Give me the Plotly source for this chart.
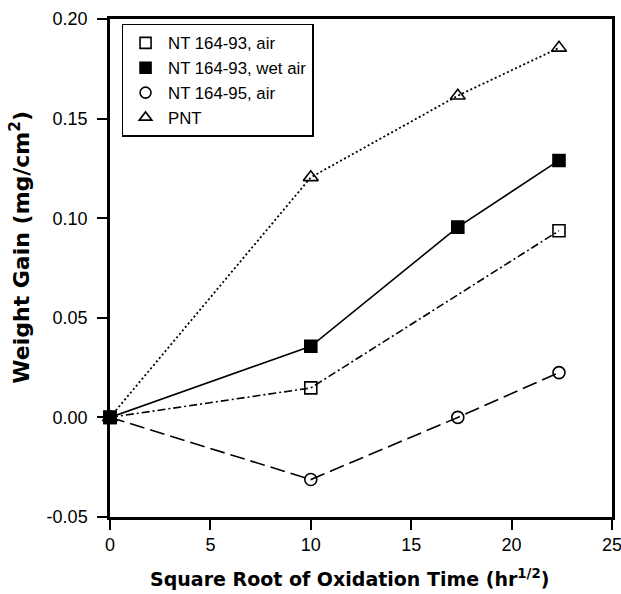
import plotly.graph_objects as go

x_all = [0, 10, 17.32, 22.36]
x_air93 = [0, 10, 22.36]
y_air93 = [0.0, 0.0148, 0.0937]
y_wet93 = [0.0, 0.0357, 0.0955, 0.129]
x_air95 = [0, 10, 17.32, 22.36]
y_air95 = [0.0, -0.0312, 0.0, 0.0225]
x_pnt = [0, 10, 17.32, 22.36]
y_pnt = [0.0, 0.1205, 0.1615, 0.1855]

names = ["NT 164-93, air", "NT 164-93, wet air", "NT 164-95, air", "PNT"]
yticks = [-0.05, 0.0, 0.05, 0.10, 0.15, 0.20]
xticks = [0, 5, 10, 15, 20, 25]
x_title = "<b>Square Root of Oxidation Time (hr<sup>1/2</sup>)</b>"
y_title = "<b>Weight Gain (mg/cm<sup>2</sup>)</b>"

fig = go.Figure()
series = [
    (x_air93, y_air93, "8px,3px,2px,3px", "square-open", 12, 1.6),
    (x_all, y_wet93, "solid", "square", 12, 1.6),
    (x_air95, y_air95, "15px,6px", "circle-open", 12, 1.6),
    (x_pnt, y_pnt, "2px,2.5px", "triangle-up-open", 13, 1.8),
]
for name, (xs, ys, dash, sym, sz, lw) in zip(names, series):
    fig.add_trace(go.Scatter(
        x=xs, y=ys, mode="lines+markers", showlegend=False, name=name,
        line=dict(color="black", width=lw, dash=dash),
        marker=dict(symbol=sym, size=sz, color="black", line=dict(color="black", width=1.6)),
        cliponaxis=False,
    ))
for name, (xs, ys, dash, sym, sz, lw) in zip(names, series):
    fig.add_trace(go.Scatter(
        x=[None], y=[None], mode="markers", name=name, showlegend=True,
        marker=dict(symbol=sym, size=11, color="black", line=dict(color="black", width=1.6)),
    ))

fig.update_layout(
    width=621, height=594,
    margin=dict(l=110, r=9, t=19, b=77),
    paper_bgcolor="white", plot_bgcolor="white",
    font=dict(family="Liberation Sans, Arial, sans-serif", color="black", size=16),
    showlegend=True,
    legend=dict(x=0.023, y=0.99, xanchor="left", yanchor="top",
                bordercolor="black", borderwidth=1.5, bgcolor="white",
                font=dict(size=16.8), tracegroupgap=0, itemwidth=35),
    annotations=[
        dict(text=x_title, xref="paper", yref="paper", x=0.478, y=-0.1225,
             xanchor="center", yanchor="middle", showarrow=False,
             font=dict(size=19, family="DejaVu Sans, sans-serif")),
        dict(text=y_title, xref="paper", yref="paper", x=-0.18, y=0.542,
             xanchor="center", yanchor="middle", showarrow=False, textangle=-90,
             font=dict(size=22, family="DejaVu Sans, sans-serif")),
    ],
)
fig.update_xaxes(
    range=[0, 25], tickvals=xticks, ticktext=[str(v) for v in xticks],
    showgrid=False, zeroline=False, showline=True, linecolor="black", linewidth=2.5,
    mirror=True, ticks="outside", ticklen=10, tickwidth=1.8, tickcolor="black",
    tickfont=dict(size=18), automargin=False, ticklabeloverflow="allow",
)
fig.update_yaxes(
    range=[-0.05, 0.20], tickvals=yticks, ticktext=[f"{v:.2f}".replace("-0.00", "0.00") for v in yticks],
    showgrid=False, zeroline=False, showline=True, linecolor="black", linewidth=2.5,
    mirror=True, ticks="outside", ticklen=10, tickwidth=1.8, tickcolor="black",
    tickfont=dict(size=18), automargin=False, ticklabelstandoff=6, ticklabeloverflow="allow",
)
fig.write_html("out.html")
